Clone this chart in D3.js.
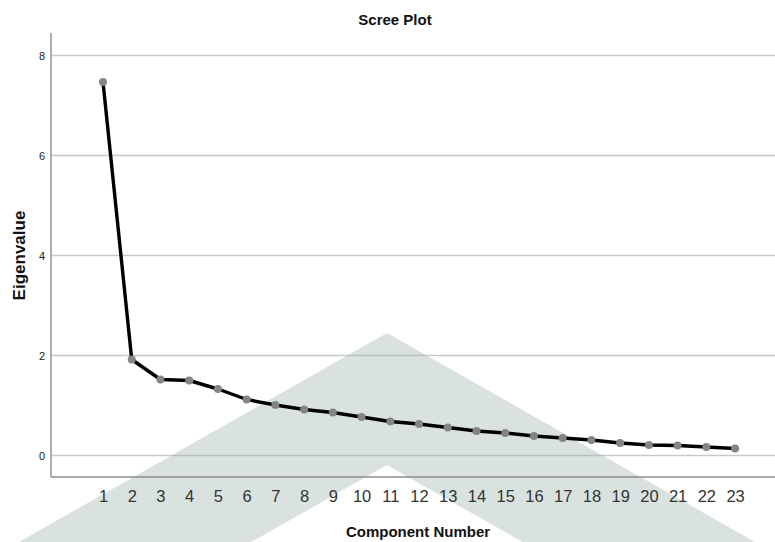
<!DOCTYPE html>
<html>
<head>
<meta charset="utf-8">
<script src="https://cdn.jsdelivr.net/npm/d3@7"></script>
<style>
  html, body { margin: 0; padding: 0; background: #fff; }
  svg { display: block; }
  text { font-family: "Liberation Sans", Arial, sans-serif; }
</style>
</head>
<body>
<svg id="chart" width="775" height="542"></svg>
<script>
const components = [1,2,3,4,5,6,7,8,9,10,11,12,13,14,15,16,17,18,19,20,21,22,23];
const eigenvalues = [7.47,1.92,1.52,1.50,1.33,1.12,1.01,0.92,0.86,0.77,0.68,0.63,0.56,0.49,0.45,0.39,0.35,0.31,0.25,0.21,0.20,0.17,0.14];
const yTicks = [0,2,4,6,8];
const title = "Scree Plot";
const xTitle = "Component Number";
const yTitle = "Eigenvalue";

const svg = d3.select("#chart");
const pLeft = 51, pRight = 775, pTop = 33, pBottom = 477;

const x = d3.scaleLinear().domain([-0.81, 24.39]).range([pLeft, pRight]);
const y = d3.scaleLinear().domain([-0.43, 8.45]).range([pBottom, pTop]);

// gridlines
svg.append("g").selectAll("line").data(yTicks).join("line")
  .attr("x1", pLeft).attr("x2", pRight)
  .attr("y1", d => y(d)).attr("y2", d => y(d))
  .attr("stroke", "#c9c9c9").attr("stroke-width", 1.4);

// watermark chevron
const ax = 387, ay = 333, iy = 465;
const slope = 209 / 368;
const outerL = ax - (542 - ay) / slope, outerR = ax + (542 - ay) / slope;
const innerL = ax - (542 - iy) / slope, innerR = ax + (542 - iy) / slope;
svg.append("path")
  .attr("d", `M${outerL},542 L${ax},${ay} L${outerR},542 L${innerR},542 L${ax},${iy} L${innerL},542 Z`)
  .attr("fill", "#9cb3ab").attr("fill-opacity", 0.38);

// axes
const yAxis = svg.append("g").attr("transform", `translate(${pLeft},0)`)
  .call(d3.axisLeft(y).tickValues(yTicks).tickSize(0).tickPadding(6));
yAxis.select(".domain").attr("stroke", "#8c8c8c").attr("stroke-width", 1.4)
  .attr("d", `M0,${pTop}V${pBottom}`);
yAxis.selectAll("text").attr("font-size", 11).attr("fill", "#222");

const xAxis = svg.append("g").attr("transform", `translate(0,${pBottom})`)
  .call(d3.axisBottom(x).tickValues(components).tickFormat(d3.format("d")).tickSize(0).tickPadding(13));
xAxis.select(".domain").attr("stroke", "#8c8c8c").attr("stroke-width", 1.4)
  .attr("d", `M${pLeft},0H${pRight}`);
xAxis.selectAll("text").attr("font-size", 16.5).attr("fill", "#333");

// line
svg.append("path").datum(components)
  .attr("d", d3.line().x(d => x(d)).y((d, i) => y(eigenvalues[i])))
  .attr("fill", "none").attr("stroke", "#000").attr("stroke-width", 3.4)
  .attr("stroke-linejoin", "round");

svg.append("g").selectAll("circle").data(components).join("circle")
  .attr("cx", d => x(d)).attr("cy", (d, i) => y(eigenvalues[i]))
  .attr("r", 4).attr("fill", "#858585");

// titles
svg.append("text").attr("x", 395).attr("y", 24.5).attr("text-anchor", "middle")
  .attr("font-size", 15).attr("font-weight", "bold").attr("fill", "#111").text(title);
svg.append("text").attr("x", 418).attr("y", 536.5).attr("text-anchor", "middle")
  .attr("font-size", 15).attr("font-weight", "bold").attr("fill", "#111").text(xTitle);
svg.append("text").attr("transform", "translate(24.5,255.5) rotate(-90)").attr("text-anchor", "middle")
  .attr("font-size", 17).attr("font-weight", "bold").attr("fill", "#111").text(yTitle);
</script>
</body>
</html>
